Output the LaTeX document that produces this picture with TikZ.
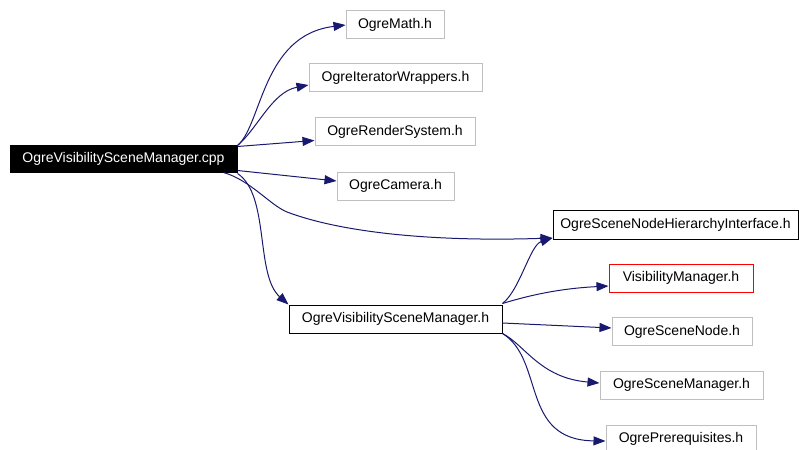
\documentclass[tikz,border=0pt]{standalone}
\usepackage{fontspec}
\setmainfont{Liberation Sans}
\usepackage{xcolor}
\definecolor{incblue}{RGB}{25, 25, 112}
\definecolor{boxgray}{RGB}{191, 191, 191}
\usepackage{tikz}
\usetikzlibrary{arrows.meta}

\tikzset{
  hdrbox/.style={draw=boxgray, line width=1pt, inner sep=0pt, minimum height=28pt,
    font=\fontsize{14}{16}\selectfont},
  incarrow/.style={incblue, line width=1pt, -{Triangle[length=12pt, width=9pt]}}
}

\begin{document}
\begin{tikzpicture}[x=1pt, y=-1pt]
      \useasboundingbox (0,0) rectangle (799,449);
      % Source file
      \node[hdrbox, draw=black, fill=black, text=white, minimum width=227pt, minimum height=26pt]
        (cpp) at (123.5,159) {OgreVisibilitySceneManager.cpp};
      % Headers included by the source
      \node[hdrbox, minimum width=98pt] (math) at (395,25) {OgreMath.h};
      \node[hdrbox, minimum width=173pt] (iter) at (395.5,78) {OgreIteratorWrappers.h};
      \node[hdrbox, minimum width=160pt] (render) at (395,131.5) {OgreRenderSystem.h};
      \node[hdrbox, minimum width=117pt] (camera) at (395.5,186) {OgreCamera.h};
      \node[hdrbox, draw=black, minimum width=245pt, minimum height=29pt]
        (hier) at (675.5,224.5) {OgreSceneNodeHierarchyInterface.h};
      \node[hdrbox, draw=black, minimum width=213pt] (vish) at (395.5,319) {OgreVisibilitySceneManager.h};
      % Headers included by the header
      \node[hdrbox, draw=red, minimum width=144pt] (vismgr) at (681,278) {VisibilityManager.h};
      \node[hdrbox, minimum width=140pt] (scenenode) at (682,331.5) {OgreSceneNode.h};
      \node[hdrbox, minimum width=163pt] (scenemgr) at (681.5,385) {OgreSceneManager.h};
      \node[hdrbox, minimum width=150pt] (prereq) at (681,439) {OgrePrerequisites.h};
      % Edges from the source
      \draw[incarrow] (cpp.north east) .. controls (262,125) and (262,35) .. (math.west);
      \draw[incarrow] (cpp.north east) .. controls (258,128) and (272,92) .. ([yshift=-7pt]iter.west);
      \draw[incarrow] ([yshift=-1pt]cpp.north east) -- ([yshift=-9pt]render.west);
      \draw[incarrow] ([yshift=2pt]cpp.south east) -- ([yshift=5pt]camera.west);
      \draw[incarrow] ([xshift=-14pt]cpp.south east) .. controls (250,180) and (270,205) .. (287,212)
        .. controls (340,232) and (430,242) .. ([yshift=1.5pt]hier.south west);
      \draw[incarrow] ([yshift=-1pt]cpp.south east) .. controls (270,195) and (255,275) .. (vish.north west);
      % Edges from the header
      \draw[incarrow] ([yshift=1pt]vish.north east) .. controls (520,290) and (530,245) .. ([yshift=1.5pt]hier.south west);
      \draw[incarrow] ([yshift=1pt]vish.north east) .. controls (540,292) and (570,288) .. ([yshift=-8pt]vismgr.west);
      \draw[incarrow] ([yshift=-4pt]vish.east) -- ([yshift=3.5pt]scenenode.west);
      \draw[incarrow] (vish.south east) .. controls (525,345) and (540,378) .. ([yshift=2pt]scenemgr.west);
      \draw[incarrow] (vish.south east) .. controls (545,360) and (520,440) .. ([yshift=-2pt]prereq.west);
    \end{tikzpicture}
\end{document}
